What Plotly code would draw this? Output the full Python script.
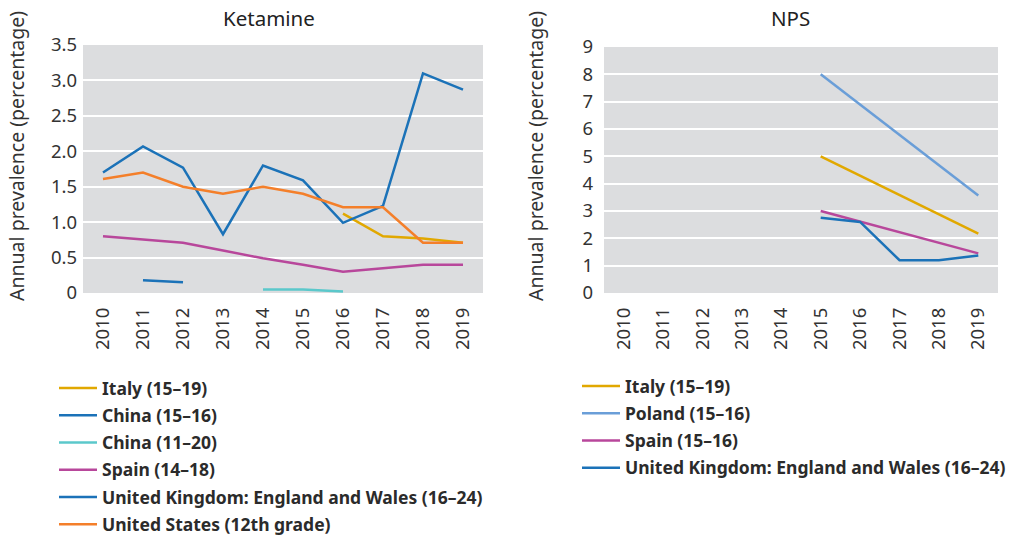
import plotly.graph_objects as go

years = [2010, 2011, 2012, 2013, 2014, 2015, 2016, 2017, 2018, 2019]

# Ketamine (left panel)
ket_italy = [None, None, None, None, None, None, 1.12, 0.80, 0.77, 0.71]
ket_china_1516 = [None, 0.18, 0.15, None, None, None, None, None, None, None]
ket_china_1120 = [None, None, None, None, 0.05, 0.05, 0.02, None, None, None]
ket_spain = [0.80, 0.76, 0.71, 0.60, 0.49, 0.40, 0.30, 0.35, 0.40, 0.40]
ket_uk = [1.70, 2.07, 1.77, 0.83, 1.80, 1.59, 0.99, 1.23, 3.10, 2.87]
ket_us = [1.61, 1.70, 1.50, 1.40, 1.50, 1.40, 1.21, 1.21, 0.71, 0.71]

# NPS (right panel)
nps_italy = [None, None, None, None, None, 5.0, None, None, None, 2.17]
nps_poland = [None, None, None, None, None, 8.0, None, None, None, 3.57]
nps_spain = [None, None, None, None, None, 3.0, None, None, None, 1.45]
nps_uk = [None, None, None, None, None, 2.75, 2.60, 1.20, 1.20, 1.37]

ket_ticks = [0, 0.5, 1.0, 1.5, 2.0, 2.5, 3.0, 3.5]
ket_ticktext = ["0", "0.5", "1.0", "1.5", "2.0", "2.5", "3.0", "3.5"]
nps_ticks = [0, 1, 2, 3, 4, 5, 6, 7, 8, 9]

C_ITALY = "#E1A800"
C_BLUE = "#1B72B8"
C_TEAL = "#5BC8CB"
C_MAGENTA = "#B8479B"
C_ORANGE = "#F47F2A"
C_POLAND = "#6A9ED8"

fig = go.Figure()

left_series = [
    ("Italy (15–19)", ket_italy, C_ITALY),
    ("China (15–16)", ket_china_1516, C_BLUE),
    ("China (11–20)", ket_china_1120, C_TEAL),
    ("Spain (14–18)", ket_spain, C_MAGENTA),
    ("United Kingdom: England and Wales (16–24)", ket_uk, C_BLUE),
    ("United States (12th grade)", ket_us, C_ORANGE),
]
for i, (name, vals, col) in enumerate(left_series):
    fig.add_trace(go.Scatter(
        x=years, y=vals, name=name, mode="lines",
        line=dict(color=col, width=2.5), connectgaps=False,
        xaxis="x", yaxis="y", legend="legend", legendgroup=f"l{i}",
    ))

right_series = [
    ("Italy (15–19)", nps_italy, C_ITALY),
    ("Poland (15–16)", nps_poland, C_POLAND),
    ("Spain (15–16)", nps_spain, C_MAGENTA),
    ("United Kingdom: England and Wales (16–24)", nps_uk, C_BLUE),
]
for i, (name, vals, col) in enumerate(right_series):
    fig.add_trace(go.Scatter(
        x=years, y=vals, name=name, mode="lines",
        line=dict(color=col, width=2.5), connectgaps=True,
        xaxis="x2", yaxis="y2", legend="legend2", legendgroup=f"r{i}",
    ))

W, H = 1011, 536
def px(x):
    return x / W
def py(y):
    return 1 - y / H

tickfont = dict(family="Noto Sans", size=18.5, color="#333333")
common_x = dict(
    range=[2009.5, 2019.5], tickvals=years, ticktext=[str(y) for y in years],
    tickangle=-90, tickfont=tickfont, showgrid=False, zeroline=False,
    showline=False, ticks="", ticklabelstandoff=10,
)
common_y = dict(
    showgrid=True, gridcolor="white", gridwidth=2, zeroline=False,
    showline=False, ticks="", tickfont=tickfont,
)

legend_font = dict(family="Noto Sans", size=17.5, color="#2b2b2b", weight="bold")

fig.update_layout(
    width=W, height=H,
    margin=dict(l=0, r=0, t=0, b=0, autoexpand=False),
    paper_bgcolor="white",
    plot_bgcolor="#DCDDDF",
    showlegend=True,
    xaxis=dict(domain=[px(83), px(483)], anchor="y", **common_x),
    yaxis=dict(domain=[py(293), py(45)], anchor="x", range=[0, 3.5],
               tickvals=ket_ticks, ticktext=ket_ticktext,
               ticklabelstandoff=5, **common_y),
    xaxis2=dict(domain=[px(604), px(998)], anchor="y2", **common_x),
    yaxis2=dict(domain=[py(293), py(47)], anchor="x2", range=[0, 9],
                tickvals=nps_ticks, ticktext=[str(t) for t in nps_ticks],
                ticklabelstandoff=10, **common_y),
    legend=dict(x=px(54), y=py(370), xanchor="left", yanchor="top",
                font=legend_font, bgcolor="rgba(0,0,0,0)", tracegroupgap=1.5,
                itemwidth=38),
    legend2=dict(x=px(577), y=py(368), xanchor="left", yanchor="top",
                 font=legend_font, bgcolor="rgba(0,0,0,0)", tracegroupgap=1.5,
                 itemwidth=38),
    annotations=[
        dict(text="Ketamine", x=px(269), y=py(18), xref="paper", yref="paper",
             xanchor="center", yanchor="middle", showarrow=False,
             font=dict(family="Noto Sans", size=20.5, color="#222222")),
        dict(text="NPS", x=px(790), y=py(18), xref="paper", yref="paper",
             xanchor="center", yanchor="middle", showarrow=False,
             font=dict(family="Noto Sans", size=20.5, color="#222222")),
        dict(text="Annual prevalence (percentage)", x=px(16), y=py(156),
             xref="paper", yref="paper", textangle=-90, showarrow=False,
             xanchor="center", yanchor="middle",
             font=dict(family="Noto Sans", size=19.5, color="#333333")),
        dict(text="Annual prevalence (percentage)", x=px(535), y=py(156),
             xref="paper", yref="paper", textangle=-90, showarrow=False,
             xanchor="center", yanchor="middle",
             font=dict(family="Noto Sans", size=19.5, color="#333333")),
    ],
)

fig.write_html("out.html")
